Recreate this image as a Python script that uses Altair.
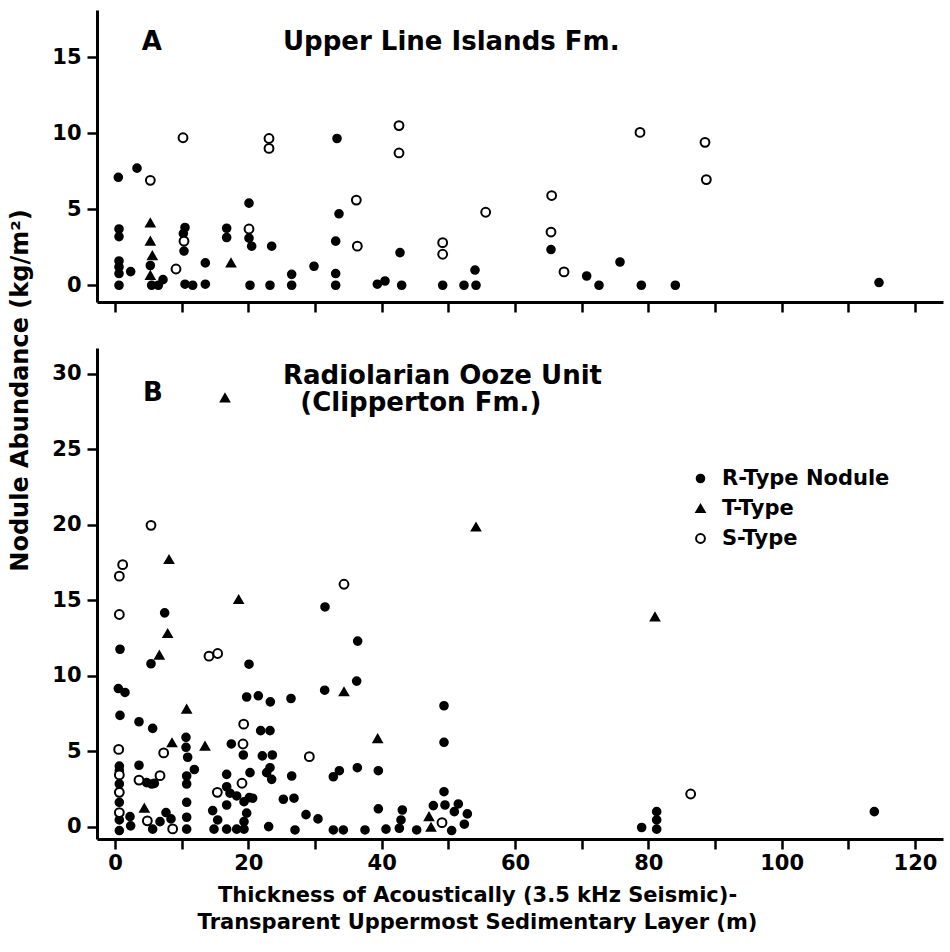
import altair as alt
import pandas as pd

TYPES = ["R-Type Nodule", "T-Type", "S-Type"]
FONT = "DejaVu Sans"

# ---- Panel A: Upper Line Islands Fm. ----
a_r_x = [0.5, 3.3, 33.3, 20.1, 33.6, 0.6, 0.6, 5.3, 5.5, 6.5, 7.2, 0.6, 0.6, 0.6, 2.35, 0.6,
         10.5, 10.25, 10.35, 10.5, 11.65, 13.55, 13.55, 16.75, 16.75, 20.1, 20.5, 23.5, 20.25,
         23.25, 26.5, 26.5, 29.85, 33.1, 33.1, 33.1, 39.35, 40.5, 42.75, 43.0, 49.15, 52.35,
         54.15, 54.0, 65.4, 70.75, 72.6, 75.75, 78.95, 84.05, 114.6]
a_r_y = [7.1, 7.7, 9.65, 5.4, 4.7, 3.7, 3.2, 1.3, 0.0, 0.0, 0.37, 1.6, 1.2, 0.77, 0.9, 0.0,
         3.8, 3.4, 2.25, 0.07, 0.0, 1.47, 0.07, 3.75, 3.14, 3.1, 2.57, 2.57, 0.0,
         0.0, 0.0, 0.72, 1.25, 2.9, 0.77, 0.0, 0.07, 0.28, 2.15, 0.0, 0.0, 0.0,
         0.0, 1.0, 2.35, 0.61, 0.0, 1.53, 0.0, 0.0, 0.18]
a_t_x = [5.3, 5.3, 5.6, 5.3, 17.4]
a_t_y = [4.1, 2.9, 1.95, 0.65, 1.47]
a_s_x = [5.3, 10.2, 23.1, 23.1, 42.6, 42.6, 36.2, 55.6, 9.15, 10.35, 20.1, 36.35, 49.15, 49.15,
         65.5, 65.4, 67.35, 78.75, 88.5, 88.7]
a_s_y = [6.9, 9.7, 9.65, 9.0, 10.5, 8.7, 5.6, 4.8, 1.07, 2.9, 3.7, 2.57, 2.8, 2.04,
         5.9, 3.5, 0.88, 10.05, 9.4, 6.95]

# ---- Panel B: Radiolarian Ooze Unit (Clipperton Fm.) ----
b_r_x = [7.45, 31.5, 36.4, 0.75, 5.4, 20.1, 36.25, 0.5, 1.5, 19.75, 21.5, 23.3, 26.4, 31.45,
         0.75, 3.6, 5.65, 10.65, 10.65, 10.9, 17.45, 19.25, 21.85, 23.25, 22.1, 23.6,
         0.65, 0.65, 0.65, 0.65, 0.65, 0.65, 3.6, 4.75, 5.5, 5.9, 2.25, 2.35, 5.65, 6.75,
         7.65, 8.4, 10.75, 10.75, 11.9, 10.75, 10.75, 10.75, 14.65, 15.4, 14.85, 16.75,
         16.75, 17.25, 18.25, 20.25, 16.75, 19.35, 20.15, 20.65, 19.75, 19.35, 16.75, 18.25,
         19.35, 22.75, 23.5, 23.25, 25.25, 26.85, 26.5, 23.05, 27.0, 28.65, 30.45, 32.75,
         33.65, 36.35, 39.5, 39.5, 32.75, 34.25, 37.5, 40.65, 43.1, 42.9, 42.65, 45.25,
         49.35, 49.35, 49.35, 47.75, 49.5, 51.5, 50.9, 52.85, 52.4, 50.5, 79.0, 81.25,
         81.25, 81.25, 113.9]
b_r_y = [14.17, 14.56, 12.3, 11.76, 10.8, 10.77, 9.65, 9.16, 8.9, 8.6, 8.68, 8.28, 8.5, 9.05,
         7.38, 6.96, 6.52, 5.93, 5.27, 4.61, 5.49, 4.76, 6.37, 6.37, 4.7, 4.76,
         4.03, 3.72, 2.84, 1.63, 0.46, -0.24, 4.08, 2.93, 2.84, 2.88, 0.68, 0.07, -0.15, 0.35,
         0.95, 0.53, 3.37, 2.84, 3.8, 1.63, 0.64, -0.15, 1.08, 0.46, -0.15, 3.48,
         2.66, 2.23, 2.05, 3.59, 1.45, 1.67, 1.94, 1.9, 0.91, 0.35, -0.15, -0.15,
         -0.15, 3.59, 3.15, 3.92, 1.83, 1.9, 3.37, 0.02, -0.2, 0.81, 0.53, 3.32,
         3.72, 3.92, 3.72, 1.2, -0.2, -0.2, -0.2, -0.15, 1.12, 0.46, -0.09, -0.2,
         8.02, 5.6, 2.33, 1.41, 1.45, 1.52, 1.01, 0.86, 0.18, -0.24, -0.04, 1.01,
         0.46, -0.15, 1.01]
b_t_x = [16.5, 8.1, 18.55, 7.9, 6.65, 10.75, 34.35, 39.4, 8.55, 13.5, 4.4, 47.1, 47.4, 54.15, 81.0]
b_t_y = [28.4, 17.7, 15.05, 12.8, 11.37, 7.8, 8.95, 5.84, 5.57, 5.35, 1.24, 0.68, -0.02, 19.85, 13.9]
b_s_x = [5.4, 1.15, 0.65, 34.35, 0.65, 14.1, 15.4, 19.3, 0.55, 7.3, 19.2, 0.65, 0.65, 0.65,
         3.6, 6.75, 4.85, 8.65, 15.35, 19.05, 29.15, 49.05, 86.35]
b_s_y = [19.96, 17.36, 16.6, 16.06, 14.06, 11.3, 11.48, 6.8, 5.13, 4.9, 5.49, 3.44, 2.29, 0.95,
         3.1, 3.39, 0.4, -0.13, 2.29, 2.89, 4.65, 0.28, 2.18]

# Panel labels and headings (x, y in data units)
a_label = {"x": [4.0], "y": [15.5], "text": ["A"]}
a_heading = {"x": [25.2], "y": [15.5], "text": ["Upper Line Islands Fm."]}
b_label = {"x": [4.2], "y": [28.2], "text": ["B"]}
b_heading = {"x": [25.2, 27.8], "y": [29.35, 27.55],
             "text": ["Radiolarian Ooze Unit", "(Clipperton Fm.)"]}

X_TICKS = list(range(0, 121, 10))


def points_frame(rx, ry, tx, ty, sx, sy):
    parts = []
    for xs, ys, t in ((rx, ry, TYPES[0]), (tx, ty, TYPES[1]), (sx, sy, TYPES[2])):
        parts.append(pd.DataFrame({"x": xs, "y": ys, "type": t}))
    return pd.concat(parts, ignore_index=True)


x_scale = alt.Scale(domain=[-2.7, 124.2], nice=False, zero=False)
shape_scale = alt.Scale(domain=TYPES, range=["circle", "triangle-up", "circle"])
fill_scale = alt.Scale(domain=TYPES, range=["black", "black", "white"])
stroke_scale = alt.Scale(domain=TYPES, range=["black", "black", "black"])
size_scale = alt.Scale(domain=TYPES, range=[58, 78, 52])

legend = alt.Legend(
    title=None, orient="none", legendX=593, legendY=458,
    labelFont=FONT, labelFontSize=21, labelFontWeight="bold", labelColor="black",
    labelLimit=0, symbolStrokeWidth=2, rowPadding=8, labelOffset=11, padding=0,
)


def scatter(df, y_dom, x_axis, y_axis):
    return alt.Chart(df).mark_point(filled=True, strokeWidth=2, opacity=1).encode(
        x=alt.X("x:Q", scale=x_scale, axis=x_axis),
        y=alt.Y("y:Q", scale=alt.Scale(domain=y_dom, nice=False, zero=False), axis=y_axis),
        shape=alt.Shape("type:N", scale=shape_scale, legend=legend),
        fill=alt.Fill("type:N", scale=fill_scale, legend=legend),
        stroke=alt.Stroke("type:N", scale=stroke_scale, legend=legend),
        size=alt.Size("type:N", scale=size_scale, legend=legend),
    )


def heading(d, size):
    return alt.Chart(pd.DataFrame(d)).mark_text(
        align="left", baseline="alphabetic", font=FONT, fontSize=size,
        fontWeight="bold", color="black",
    ).encode(x="x:Q", y="y:Q", text="text:N")


top_x_axis = alt.Axis(values=X_TICKS, labels=False, title=None, tickSize=10)
top_y_axis = alt.Axis(values=[0, 5, 10, 15], title=None, tickSize=10, labelPadding=6)

bottom_x_axis = alt.Axis(
    values=X_TICKS, tickSize=10, labelPadding=3,
    labelExpr="datum.value % 20 == 0 ? datum.label : ''",
    title=["Thickness of Acoustically (3.5 kHz Seismic)-",
           "Transparent Uppermost Sedimentary Layer (m)"],
    titleX=380, titleY=62, titleAlign="center", titleBaseline="alphabetic",
    titleLineHeight=27, titleFontSize=21,
)
bottom_y_axis = alt.Axis(
    values=list(range(0, 31, 5)), tickSize=10, labelPadding=6,
    title="Nodule Abundance (kg/m²)", titleAngle=270, titleX=-70, titleY=42,
    titleAlign="center", titleBaseline="alphabetic", titleFontSize=24,
)

df_a = points_frame(a_r_x, a_r_y, a_t_x, a_t_y, a_s_x, a_s_y)
df_b = points_frame(b_r_x, b_r_y, b_t_x, b_t_y, b_s_x, b_s_y)

panel_a = alt.layer(
    scatter(df_a, [-1.1, 18.1], top_x_axis, top_y_axis),
    heading(a_label, 26),
    heading(a_heading, 26),
).properties(width=846, height=292)

panel_b = alt.layer(
    scatter(df_b, [-0.8, 31.7], bottom_x_axis, bottom_y_axis),
    heading(b_label, 26),
    heading(b_heading, 26),
).properties(width=846, height=491)

chart = alt.vconcat(panel_a, panel_b, spacing=46, bounds="flush").properties(
    padding={"left": 7, "top": 10, "right": 5, "bottom": 5},
    background="white",
).configure_view(stroke=None).configure_axis(
    grid=False, domainColor="black", domainWidth=3, tickColor="black", tickWidth=2.5,
    labelColor="black", labelFont=FONT, labelFontSize=21, labelFontWeight="bold",
    titleColor="black", titleFont=FONT, titleFontWeight="bold",
)

chart.save("out.html", embed_options={"renderer": "svg", "actions": False})
